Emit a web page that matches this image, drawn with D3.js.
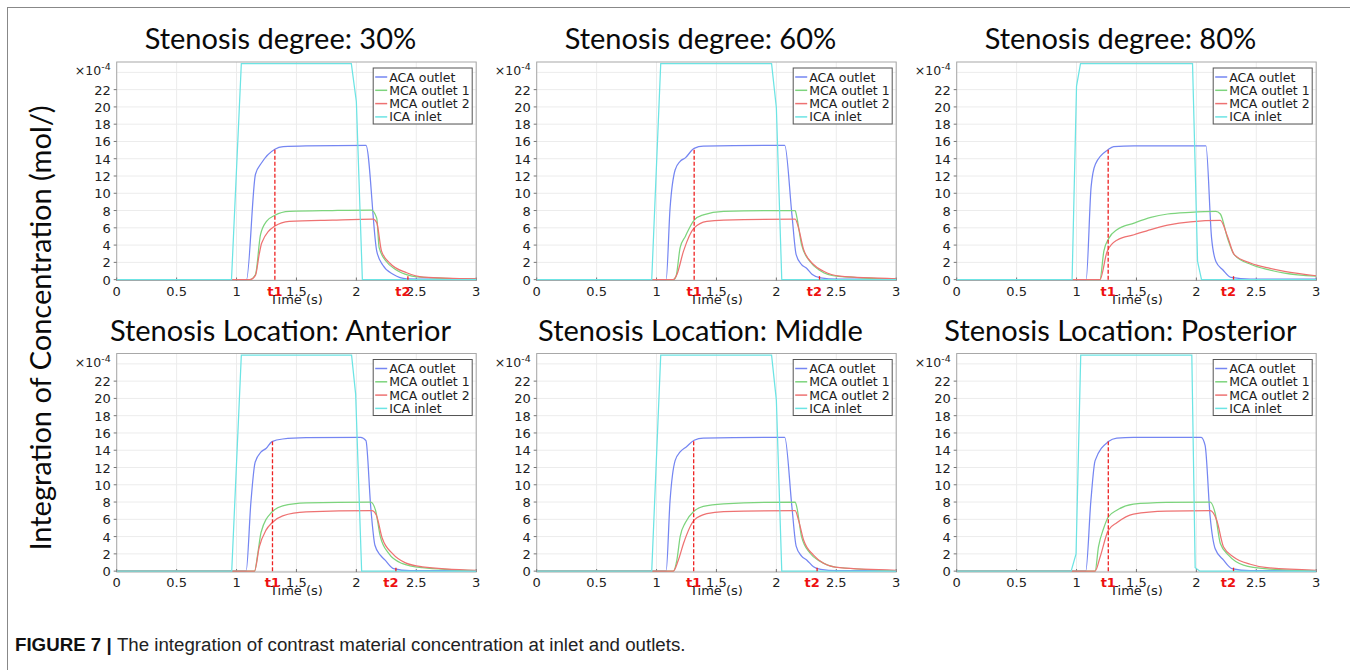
<!DOCTYPE html>
<html>
<head>
<meta charset="utf-8">
<script src="https://cdn.jsdelivr.net/npm/d3@7"></script>
<style>
  body { margin: 0; background: #fff; }
  svg { display: block; }
</style>
</head>
<body>
<div id="chart"></div>
<script>
// panel titles, row by row
const titles = ["Stenosis degree: 30%", "Stenosis degree: 60%", "Stenosis degree: 80%",
                "Stenosis Location: Anterior", "Stenosis Location: Middle", "Stenosis Location: Posterior"]

const seriesNames = ["ACA outlet", "MCA outlet 1", "MCA outlet 2", "ICA inlet"]
const xTicks = [0, 0.5, 1, 1.5, 2, 2.5, 3]
const yTicks = [0, 2, 4, 6, 8, 10, 12, 14, 16, 18, 20, 22]

// t1 / t2 markers per panel (s), and where the t1 dashed line stops (x1e-4)
const t1 = [1.32, 1.314, 1.264, 1.30, 1.31, 1.265]
const t1Top = [15.1, 15.2, 15.05, 15.0, 15.15, 15.0]
const t2 = [2.43, 2.36, 2.31, 2.33, 2.34, 2.31]

// [time, value x1e-4]
const ica30 = [[0,0],[0.958,0],[1.04,25],[1.958,25],[2.0,20.6],[2.05,0],[3,0]]
const aca30 = [[0,0],[1.083,0],[1.158,12.2],[1.208,13.5],[1.32,15.1],[1.39,15.4],[1.58,15.5],[2.08,15.55],[2.17,3.3],[2.22,1.7],[2.31,0.6],[2.42,0.1],[2.6,0.05],[3,0.05]]
const mca1_30 = [[0,0],[1.11,0],[1.158,0.6],[1.2,5.2],[1.25,6.75],[1.32,7.45],[1.44,7.9],[1.8,8.0],[2.125,8.05],[2.17,7.1],[2.19,3.7],[2.25,2.1],[2.33,1.15],[2.44,0.5],[2.56,0.25],[3,0.05]]
const mca2_30 = [[0,0],[1.11,0],[1.158,0.5],[1.19,3.0],[1.21,4.25],[1.32,6.2],[1.44,6.75],[1.8,6.9],[2.14,7.0],[2.17,6.6],[2.21,3.3],[2.28,1.9],[2.42,0.8],[2.56,0.3],[3,0.1]]

const ica60 = [[0,0],[0.96,0],[1.035,25],[1.96,25],[2.0,19.9],[2.045,0],[3,0]]
const aca60 = [[0,0],[1.08,0],[1.113,8.3],[1.155,12.7],[1.197,13.7],[1.24,14.1],[1.314,15.2],[1.39,15.45],[2.07,15.55],[2.13,7.5],[2.165,2.9],[2.21,1.75],[2.25,1.35],[2.3,0.6],[2.37,0.2],[2.5,0.05],[3,0.05]]
const mca1_60 = [[0,0],[1.14,0],[1.163,0.4],[1.197,3.7],[1.24,5.0],[1.314,6.9],[1.39,7.5],[1.56,7.9],[2.157,8.0],[2.17,7.3],[2.21,4.05],[2.28,2.1],[2.37,1.0],[2.5,0.4],[3,0.05]]
const mca2_60 = [[0,0],[1.14,0],[1.17,0.6],[1.225,3.3],[1.314,6.0],[1.42,6.75],[1.56,6.9],[2.157,7.0],[2.185,6.0],[2.227,3.5],[2.31,1.75],[2.39,1.0],[2.53,0.4],[3,0.1]]

const ica80 = [[0,0],[0.963,0],[1.0,22.4],[1.033,25],[1.968,25],[2.01,2.1],[2.043,0],[3,0]]
const aca80 = [[0,0],[1.08,0],[1.122,10.8],[1.158,13.4],[1.264,15.05],[1.31,15.4],[1.48,15.5],[2.08,15.5],[2.127,4.8],[2.163,2.1],[2.22,1.15],[2.29,0.25],[2.45,0.05],[3,0.05]]
const mca1_80 = [[0,0],[1.195,0],[1.228,3.3],[1.27,4.8],[1.34,5.8],[1.48,6.55],[1.62,7.2],[1.76,7.6],[1.95,7.8],[2.163,7.9],[2.2,7.6],[2.26,4.8],[2.316,2.9],[2.456,1.75],[2.6,1.15],[2.735,0.75],[3,0.4]]
const mca2_80 = [[0,0],[1.195,0],[1.256,3.3],[1.34,4.6],[1.48,5.2],[1.62,5.8],[1.76,6.3],[1.95,6.7],[2.2,6.85],[2.26,5.0],[2.316,2.9],[2.456,1.9],[2.6,1.35],[2.735,0.95],[3,0.45]]

const icaAnt = [[0,0],[0.96,0],[1.04,25],[1.96,25],[1.994,20.5],[2.044,0],[3,0]]
const acaAnt = [[0,0],[1.08,0],[1.12,8.0],[1.155,12.6],[1.205,13.8],[1.246,14.2],[1.296,15.0],[1.385,15.3],[1.58,15.45],[2.036,15.5],[2.08,15.1],[2.12,7.4],[2.155,3.0],[2.2,1.85],[2.24,1.27],[2.31,0.3],[2.45,0.05],[3,0.05]]
const mca1Ant = [[0,0],[1.15,0],[1.177,2.0],[1.205,4.5],[1.296,6.85],[1.385,7.55],[1.58,7.9],[2.12,8.0],[2.16,7.05],[2.2,4.0],[2.27,2.05],[2.38,0.9],[2.55,0.4],[3,0.05]]
const mca2Ant = [[0,0],[1.15,0],[1.19,2.8],[1.246,4.75],[1.296,5.6],[1.385,6.4],[1.58,6.85],[2.13,7.0],[2.166,6.5],[2.216,3.8],[2.3,2.05],[2.41,0.95],[2.55,0.5],[3,0.1]]

const icaMid = [[0,0],[0.96,0],[1.035,25],[1.96,25],[2.0,19.8],[2.045,0],[3,0]]
const acaMid = [[0,0],[1.08,0],[1.113,8.2],[1.155,12.8],[1.197,13.8],[1.25,14.4],[1.314,15.15],[1.39,15.4],[2.07,15.5],[2.13,7.4],[2.165,2.9],[2.21,1.75],[2.255,1.27],[2.31,0.5],[2.37,0.2],[2.5,0.05],[3,0.05]]
const mca1Mid = [[0,0],[1.14,0],[1.17,1.3],[1.197,4.0],[1.24,5.6],[1.314,6.95],[1.39,7.5],[1.56,7.8],[2.157,8.0],[2.17,7.45],[2.21,4.0],[2.28,2.1],[2.37,1.1],[2.5,0.45],[3,0.05]]
const mca2Mid = [[0,0],[1.14,0],[1.18,1.2],[1.225,3.2],[1.314,5.9],[1.42,6.65],[1.56,6.9],[2.157,7.0],[2.185,5.9],[2.227,3.6],[2.31,1.85],[2.39,0.95],[2.53,0.4],[3,0.1]]

const icaPost = [[0,0],[0.955,0],[0.996,2.0],[1.035,25],[1.962,25],[1.99,0.4],[2.03,0],[3,0]]
const acaPost = [[0,0],[1.077,0],[1.12,8.2],[1.155,12.8],[1.266,15.0],[1.336,15.4],[1.475,15.5],[2.04,15.5],[2.073,14.55],[2.115,6.3],[2.157,2.6],[2.227,1.27],[2.296,0.3],[2.45,0.05],[3,0.05]]
const mca1Post = [[0,0],[1.155,0],[1.183,2.8],[1.225,4.9],[1.266,6.3],[1.336,7.05],[1.475,7.75],[1.75,7.95],[2.115,8.0],[2.157,6.7],[2.2,3.2],[2.268,1.85],[2.393,0.7],[2.59,0.27],[3,0.05]]
const mca2Post = [[0,0],[1.155,0],[1.197,1.65],[1.266,4.75],[1.336,5.6],[1.475,6.6],[1.75,6.95],[2.115,7.0],[2.17,5.9],[2.227,2.8],[2.31,1.65],[2.45,0.8],[2.59,0.4],[3,0.1]]

const panelSeries = [
    [aca30, mca1_30, mca2_30, ica30],
    [aca60, mca1_60, mca2_60, ica60],
    [aca80, mca1_80, mca2_80, ica80],
    [acaAnt, mca1Ant, mca2Ant, icaAnt],
    [acaMid, mca1Mid, mca2Mid, icaMid],
    [acaPost, mca1Post, mca2Post, icaPost]
]

const colors = ["#7586f2", "#7dd47d", "#ee7272", "#6ce4e4"]

const W = 1357, H = 670
const svg = d3.select("#chart").append("svg")
    .attr("width", W).attr("height", H)

// figure frame (top + left)
svg.append("line").attr("x1", 7).attr("x2", 1350).attr("y1", 7.5).attr("y2", 7.5)
    .attr("stroke", "#888").attr("stroke-width", 1)
svg.append("line").attr("x1", 7.5).attr("x2", 7.5).attr("y1", 7).attr("y2", H)
    .attr("stroke", "#888").attr("stroke-width", 1)

const pw = 359.5, ph = 218.5
const colX = [116.7, 536.7, 956.7]
const rowY = [62, 353.5]

const x = d3.scaleLinear().domain([0, 3]).range([0, pw])
const y = d3.scaleLinear().domain([-0.1, 25.2]).range([ph, 0])

// smooth outlets, straight inlet ramps
const smooth = d3.line().x(d => x(d[0])).y(d => y(d[1])).curve(d3.curveMonotoneX)
const straight = d3.line().x(d => x(d[0])).y(d => y(d[1]))

const tickFont = "'DejaVu Sans', sans-serif"
const titleFont = "Lato, 'Open Sans', sans-serif"

svg.append("defs").append("clipPath").attr("id", "plotclip")
    .append("rect").attr("width", pw).attr("height", ph)

panelSeries.forEach(function(series, i) {
    let col = i % 3, row = Math.floor(i / 3)
    let g = svg.append("g")
        .attr("transform", "translate(" + colX[col] + "," + rowY[row] + ")")

    // title
    g.append("text")
        .attr("x", pw / 2 - 16)
        .attr("y", -13)
        .attr("text-anchor", "middle")
        .attr("font-family", titleFont)
        .attr("font-size", 29)
        .attr("fill", "#0a0a0a")
        .text(titles[i])

    // grid
    g.selectAll(".gx").data(xTicks).enter().append("line")
        .attr("x1", d => x(d)).attr("x2", d => x(d))
        .attr("y1", 0).attr("y2", ph)
        .attr("stroke", "#ececec")
    g.selectAll(".gy").data(yTicks.concat([24])).enter().append("line")
        .attr("x1", 0).attr("x2", pw)
        .attr("y1", d => y(d)).attr("y2", d => y(d))
        .attr("stroke", "#ececec")

    // frame
    g.append("rect").attr("width", pw).attr("height", ph)
        .attr("fill", "none").attr("stroke", "#a8a8a8")

    // ticks
    g.selectAll(".tx").data(xTicks).enter().append("line")
        .attr("x1", d => x(d)).attr("x2", d => x(d))
        .attr("y1", ph).attr("y2", ph - 3)
        .attr("stroke", "#777")
    g.selectAll(".ty").data(yTicks).enter().append("line")
        .attr("x1", -3).attr("x2", 0)
        .attr("y1", d => y(d)).attr("y2", d => y(d))
        .attr("stroke", "#777")

    // tick labels
    g.selectAll(".lx").data(xTicks).enter().append("text")
        .attr("x", d => x(d)).attr("y", ph + 15)
        .attr("text-anchor", "middle")
        .attr("font-family", tickFont).attr("font-size", 13).attr("fill", "#222")
        .text(d => d)
    g.selectAll(".ly").data(yTicks).enter().append("text")
        .attr("x", -6).attr("y", d => y(d) + 5)
        .attr("text-anchor", "end")
        .attr("font-family", tickFont).attr("font-size", 13).attr("fill", "#222")
        .text(d => d)

    // x10^-4 exponent
    let ex = g.append("text")
        .attr("x", -6).attr("y", 13)
        .attr("text-anchor", "end")
        .attr("font-family", tickFont).attr("font-size", 12.5).attr("fill", "#222")
    ex.append("tspan").text("\u00d710")
    ex.append("tspan").attr("dy", -5).attr("font-size", 9.5).text("-4")

    // axis title
    g.append("text")
        .attr("x", pw / 2).attr("y", ph + 23)
        .attr("text-anchor", "middle")
        .attr("font-family", tickFont).attr("font-size", 13).attr("fill", "#222")
        .text("Time (s)")

    // curves
    let curves = g.append("g").attr("clip-path", "url(#plotclip)")
    curves.selectAll("path").data(series).enter().append("path")
        .attr("d", (d, k) => k === 3 ? straight(d) : smooth(d))
        .attr("fill", "none")
        .attr("stroke", (d, k) => colors[k])
        .attr("stroke-width", 1.25)

    // t1 dashed line and t2 marker
    g.append("line")
        .attr("x1", x(t1[i])).attr("x2", x(t1[i]))
        .attr("y1", y(0)).attr("y2", y(t1Top[i]))
        .attr("stroke", "#ee2222").attr("stroke-width", 1.3)
        .attr("stroke-dasharray", "4,2")
    g.append("line")
        .attr("x1", x(t2[i])).attr("x2", x(t2[i]))
        .attr("y1", y(0)).attr("y2", y(0.4))
        .attr("stroke", "#ee2222").attr("stroke-width", 1.3)
    g.append("text")
        .attr("x", x(t1[i])).attr("y", ph + 15)
        .attr("text-anchor", "middle")
        .attr("font-family", tickFont).attr("font-size", 13)
        .attr("font-weight", "bold").attr("fill", "#ee1111")
        .text("t1")
    g.append("text")
        .attr("x", x(t2[i]) - 5).attr("y", ph + 15)
        .attr("text-anchor", "middle")
        .attr("font-family", tickFont).attr("font-size", 13)
        .attr("font-weight", "bold").attr("fill", "#ee1111")
        .text("t2")

    // legend
    let lg = g.append("g").attr("transform", "translate(" + (pw - 103) + ",6)")
    lg.append("rect").attr("width", 99).attr("height", 56)
        .attr("fill", "#fff").attr("stroke", "#555").attr("stroke-width", 1)
    seriesNames.forEach(function(name, k) {
        let ry = 9 + k * 13.3
        lg.append("line").attr("x1", 2).attr("x2", 14)
            .attr("y1", ry).attr("y2", ry)
            .attr("stroke", colors[k]).attr("stroke-width", 1.5)
        lg.append("text").attr("x", 16).attr("y", ry + 4.5)
            .attr("font-family", tickFont).attr("font-size", 12.5).attr("fill", "#222")
            .text(name)
    })
})

// shared y label
svg.append("text")
    .attr("transform", "translate(51,328) rotate(-90)")
    .attr("text-anchor", "middle")
    .attr("font-family", titleFont)
    .attr("font-size", 29)
    .attr("fill", "#0a0a0a")
    .text("Integration of Concentration (mol/)")

// caption
let cap = svg.append("text")
    .attr("transform", "translate(15,651) scale(0.985,1)")
    .attr("font-family", "'Liberation Sans Narrow', 'Liberation Sans', Arial, sans-serif")
    .attr("font-size", 19)
    .attr("fill", "#222")
cap.append("tspan").attr("font-weight", "bold").attr("fill", "#111").text("FIGURE 7 | ")
cap.append("tspan").text("The integration of contrast material concentration at inlet and outlets.")
</script>
</body>
</html>
